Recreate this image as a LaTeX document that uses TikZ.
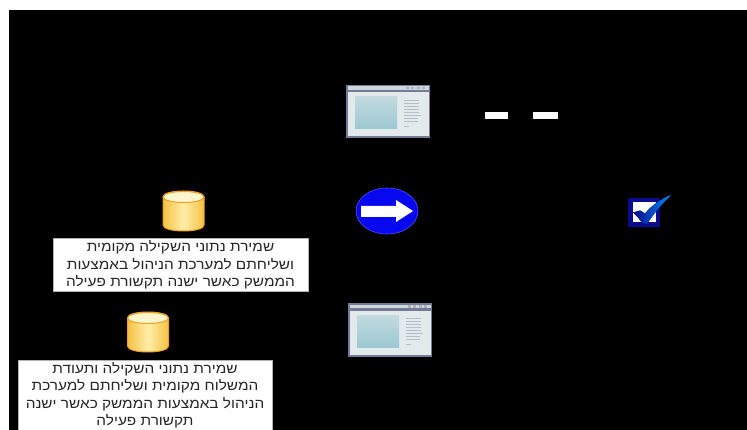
\documentclass[tikz,border=0pt]{standalone}
\usepackage{fontspec}
\setmainfont{Liberation Sans}
\newfontfamily\hebfont[Script=Hebrew,FakeStretch=1.13]{Liberation Sans}
\TeXXeTstate=1
\usetikzlibrary{shapes.geometric}
\definecolor{cylE}{HTML}{F0A020}
\definecolor{cylL}{HTML}{FFEDA8}
\definecolor{cylD}{HTML}{F4C244}
\definecolor{winF}{HTML}{767A96}
\definecolor{winB}{HTML}{E3EAEC}
\definecolor{winT}{HTML}{CBD8DC}
\definecolor{winP}{HTML}{9CC8D2}
\definecolor{winQ}{HTML}{C2DADF}
\definecolor{winL}{HTML}{B4BEC5}
\definecolor{signB}{HTML}{0808F0}
\definecolor{chkB}{HTML}{0A0A8C}
\tikzset{
  noteBox/.style={fill=white,draw=gray!60,line width=0.5pt,inner sep=0pt,align=center,font=\fontsize{13.6}{17.5}\selectfont\hebfont,text=black!85},
  dashBar/.style={fill=white,draw=none},
  pics/dbcyl/.style={code={
    \path[left color=cylD,right color=cylD,middle color=cylL,draw=cylE,line width=1pt]
      (-20.5,-14) -- (-20.5,14) .. controls (-20.5,22) and (20.5,22) .. (20.5,14)
      -- (20.5,-14) .. controls (20.5,-22) and (-20.5,-22) .. (-20.5,-14) -- cycle;
    \path[fill=cylL!55!white,draw=cylE,line width=1pt] (0,-14) ellipse[x radius=20.5,y radius=5.5];
  }},
  pics/appwin/.style={code={
    \path[fill=winF] (0,0) rectangle (84,53);
    \path[fill=winB] (1.5,7.5) rectangle (82.5,51.5);
    \path[fill=winT] (1.5,1.5) rectangle (82.5,5);
    \foreach \bx in {60,65,71,76} \path[fill=winF!60] (\bx,2) rectangle +(2.5,2.5);
    \path[top color=winQ,bottom color=winP] (9,12) rectangle (51,44);
    \foreach \ly/\lx in {15/73,18/73,21/73,24/73,27/73,30/75,33/72,36/72,41/63}
      \draw[winL,line width=0.8pt] (58,\ly) -- (\lx,\ly);
  }}
}
\begin{document}
\begin{tikzpicture}[x=1pt,y=-1pt]
\useasboundingbox (0,0) rectangle (747,430);
\fill[white] (0,0) rectangle (747,430);
\fill[black] (9,10) rectangle (747,430);

\pic at (183.5,211) {dbcyl};
\pic at (148,332) {dbcyl};

\node[noteBox,minimum width=255pt,minimum height=53pt] (noteA) at (180.5,265)
  {\beginR שמירת נתוני השקילה מקומית\endR\\\beginR ושליחתם למערכת הניהול באמצעות\endR\\\beginR הממשק כאשר ישנה תקשורת פעילה\endR};
\node[noteBox,minimum width=254pt,minimum height=70pt] (noteB) at (145,395)
  {\beginR שמירת נתוני השקילה ותעודת\endR\\\beginR המשלוח מקומית ושליחתם למערכת\endR\\\beginR הניהול באמצעות הממשק כאשר ישנה\endR\\\beginR תקשורת פעילה\endR};

\pic at (346,85) {appwin};
\pic at (348,303.5) {appwin};

\node[ellipse,fill=signB,draw=blue!70!white,line width=0.6pt,minimum width=62pt,minimum height=46pt,inner sep=0pt] (sign) at (387,211) {};
\fill[white] (361,206) -- (396,206) -- (396,200) -- (413,211) -- (396,222) -- (396,217) -- (361,217) -- cycle;

\node[dashBar,minimum width=23pt,minimum height=7pt,inner sep=0pt] (dashA) at (496.5,115.5) {};
\node[dashBar,minimum width=25pt,minimum height=7pt,inner sep=0pt] (dashB) at (545.5,115.5) {};

\node[fill=white,draw=chkB,line width=4.5pt,minimum width=27.5pt,minimum height=24.5pt,inner sep=0pt] (check) at (644,212.5) {};
\fill[left color=chkB,right color=blue!45!cyan] (633,212.5) -- (640,210.5) -- (645,213.5) .. controls (652,205) and (661,199) .. (671,195) .. controls (662,204) and (654,213) .. (647,224) -- (642,223) .. controls (640,219.5) and (637,216) .. (633,212.5) -- cycle;
\end{tikzpicture}
\end{document}
